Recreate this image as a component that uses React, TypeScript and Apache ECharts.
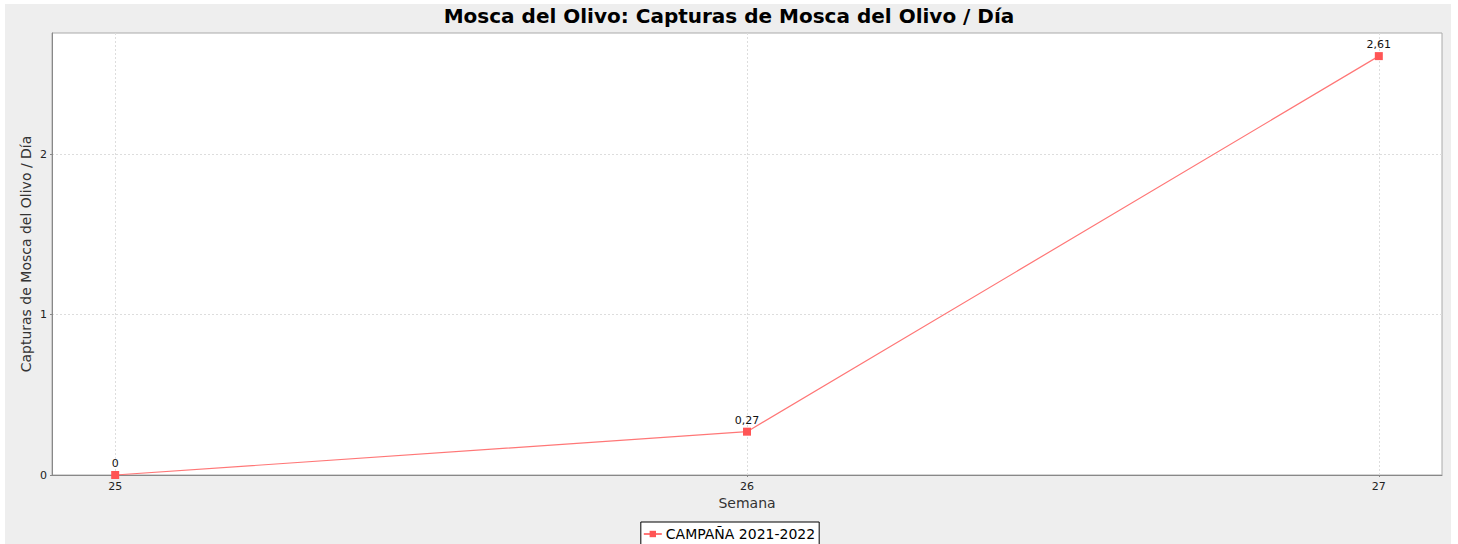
import React, { useEffect, useRef } from "react";
import * as echarts from "echarts";

const weeks = [25, 26, 27];
const captures = [0, 0.27, 2.61];
const yTicks = [0, 1, 2];
const seriesName = "CAMPAÑA 2021-2022";
const titleText = "Mosca del Olivo: Capturas de Mosca del Olivo / Día";
const xName = "Semana";
const yName = "Capturas de Mosca del Olivo / Día";

const FONT = "DejaVu Sans";
const fmt = (v: number) => String(v).replace(".", ",");

export default function App() {
  const ref = useRef<HTMLDivElement>(null);
  useEffect(() => {
    if (!ref.current) return;
    const chart = echarts.init(ref.current, null, { renderer: "svg" });
    chart.setOption({
      animation: false,
      backgroundColor: "#ffffff",
      textStyle: { fontFamily: FONT },
      graphic: [
        {
          type: "rect",
          z: -10,
          silent: true,
          shape: { x: 5, y: 4, width: 1446, height: 540 },
          style: { fill: "#eeeeee" },
        },
      ],
      title: {
        text: titleText,
        left: "center",
        top: 6,
        padding: 0,
        textStyle: { fontFamily: FONT, fontSize: 20, fontWeight: "bold", color: "#000" },
      },
      grid: {
        left: 52,
        top: 33,
        right: 16,
        bottom: 69,
        show: true,
        backgroundColor: "#ffffff",
        borderColor: "#aaaaaa",
        borderWidth: 1,
      },
      legend: {
        bottom: -5,
        left: "center",
        data: [seriesName],
        backgroundColor: "#ffffff",
        borderColor: "#000000",
        borderWidth: 1,
        borderRadius: 0,
        padding: [5, 4, 8, 2],
        itemWidth: 18,
        itemHeight: 8,
        itemGap: 4,
        textStyle: { fontFamily: FONT, fontSize: 14, color: "#000", padding: [0, 0, 0, -1] },
      },
      xAxis: {
        type: "value",
        min: 24.9,
        max: 27.1,
        name: xName,
        nameLocation: "middle",
        nameGap: 21,
        nameMoveOverlap: false,
        nameTextStyle: { fontFamily: FONT, fontSize: 14, color: "#333" },
        axisLine: { show: true, lineStyle: { color: "#888888" } },
        axisTick: { show: true, length: 2, customValues: weeks, lineStyle: { color: "#888888" } },
        axisLabel: { customValues: weeks, fontFamily: FONT, fontSize: 11, color: "#222", margin: 6 },
        splitLine: { show: true, lineStyle: { color: "#dddddd", type: [2, 2] } },
      },
      yAxis: {
        type: "value",
        min: 0,
        max: 2.754,
        name: yName,
        nameLocation: "middle",
        nameGap: 19,
        nameMoveOverlap: false,
        nameRotate: 90,
        nameTextStyle: { fontFamily: FONT, fontSize: 14, color: "#333" },
        axisLine: { show: true, lineStyle: { color: "#888888" } },
        axisTick: { show: true, length: 2, customValues: yTicks, lineStyle: { color: "#888888" } },
        axisLabel: { customValues: yTicks, fontFamily: FONT, fontSize: 11, color: "#222", margin: 5, formatter: (v: number) => fmt(v) },
        splitLine: { show: true, lineStyle: { color: "#dddddd", type: [2, 2] } },
      },
      series: [
        {
          name: seriesName,
          type: "line",
          data: weeks.map((w, i) => [w, captures[i]]),
          symbol: "rect",
          symbolSize: 8,
          itemStyle: { color: "#ff5555" },
          lineStyle: { color: "#ff7777", width: 1.2 },
          label: {
            show: true,
            position: "top",
            distance: 2,
            fontFamily: FONT,
            fontSize: 11,
            color: "#111",
            formatter: (p: any) => fmt(p.value[1]),
          },
        },
      ],
    });
    return () => chart.dispose();
  }, []);
  return (
    <div
      ref={ref}
      style={{ position: "absolute", left: 0, top: 0, width: 1458, height: 544 }}
    />
  );
}
